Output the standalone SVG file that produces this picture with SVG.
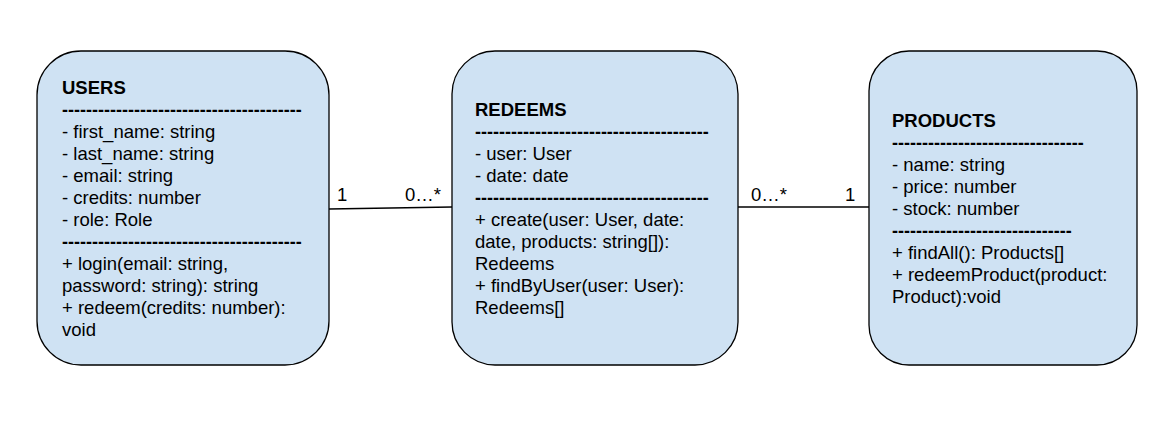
<svg xmlns="http://www.w3.org/2000/svg" width="1170" height="427" viewBox="0 0 1170 427">
<style>
.box{fill:#cfe2f3;stroke:#000;stroke-width:1.3}
.t{font-family:"Liberation Sans",Arial,sans-serif;font-size:18.5px;fill:#000}
.b{font-weight:bold}
.d{font-family:"Liberation Sans",Arial,sans-serif;font-size:18px;font-weight:bold;fill:#000}
.conn{stroke:#000;stroke-width:1.3;fill:none}
</style>
<rect width="1170" height="427" fill="#fff"/>
<g id="connectors">
<line class="conn" x1="329" y1="209" x2="452" y2="207"/>
<line class="conn" x1="738" y1="207" x2="869" y2="207"/>
<text class="t" x="337" y="201">1</text>
<text class="t" x="405" y="201">0…*</text>
<text class="t" x="751" y="201">0…*</text>
<text class="t" x="845" y="201">1</text>
</g>
<g id="users">
<rect class="box" x="37" y="51" width="292" height="314" rx="44" ry="44"/>
<text class="t b" x="62" y="94">USERS</text>
<text class="d" x="62" y="116">----------------------------------------</text>
<text class="t" x="62" y="138">- first_name: string</text>
<text class="t" x="62" y="160">- last_name: string</text>
<text class="t" x="62" y="182">- email: string</text>
<text class="t" x="62" y="204">- credits: number</text>
<text class="t" x="62" y="226">- role: Role</text>
<text class="d" x="62" y="248">----------------------------------------</text>
<text class="t" x="62" y="270">+ login(email: string,</text>
<text class="t" x="62" y="292">password: string): string</text>
<text class="t" x="62" y="314">+ redeem(credits: number):</text>
<text class="t" x="62" y="336">void</text>
</g>
<g id="redeems">
<rect class="box" x="452" y="51" width="286" height="314" rx="43" ry="43"/>
<text class="t b" x="475" y="116">REDEEMS</text>
<text class="d" x="475" y="138">---------------------------------------</text>
<text class="t" x="475" y="160">- user: User</text>
<text class="t" x="475" y="182">- date: date</text>
<text class="d" x="475" y="204">---------------------------------------</text>
<text class="t" x="475" y="226">+ create(user: User, date:</text>
<text class="t" x="475" y="248">date, products: string[]):</text>
<text class="t" x="475" y="270">Redeems</text>
<text class="t" x="475" y="292">+ findByUser(user: User):</text>
<text class="t" x="475" y="314">Redeems[]</text>
</g>
<g id="products">
<rect class="box" x="869" y="51" width="268" height="314" rx="40" ry="40"/>
<text class="t b" x="892" y="127">PRODUCTS</text>
<text class="d" x="892" y="149">--------------------------------</text>
<text class="t" x="892" y="171">- name: string</text>
<text class="t" x="892" y="193">- price: number</text>
<text class="t" x="892" y="215">- stock: number</text>
<text class="d" x="892" y="237">------------------------------</text>
<text class="t" x="892" y="259">+ findAll(): Products[]</text>
<text class="t" x="892" y="281">+ redeemProduct(product:</text>
<text class="t" x="892" y="303">Product):void</text>
</g>
</svg>
